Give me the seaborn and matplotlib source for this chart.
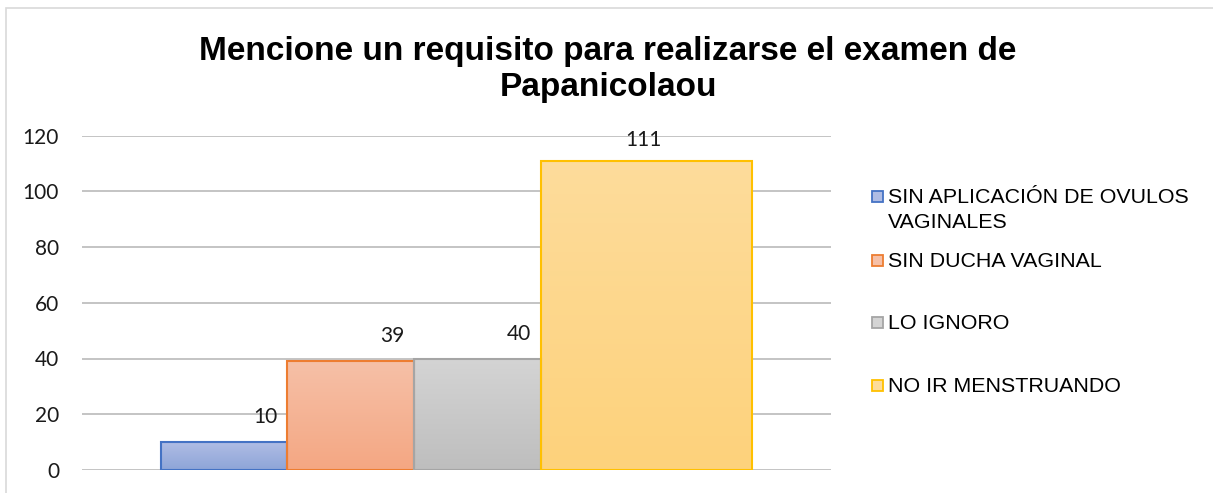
import textwrap
import numpy as np
import matplotlib.pyplot as plt
from matplotlib.patches import Rectangle
from matplotlib.colors import to_rgb
import seaborn as sns

# ── Data ──────────────────────────────────────────────────────────────────────
title = "Mencione un requisito para realizarse el examen de\nPapanicolaou"
categories = ["SIN APLICACIÓN DE OVULOS VAGINALES", "SIN DUCHA VAGINAL",
              "LO IGNORO", "NO IR MENSTRUANDO"]
values = [10, 39, 40, 111]
y_ticks = [0, 20, 40, 60, 80, 100, 120]

# ── Style ─────────────────────────────────────────────────────────────────────
edge_colors = ["#4472C4", "#ED7D31", "#A5A5A5", "#FFC000"]
grad_top = ["#AFBCE4", "#F6C0A7", "#D4D4D4", "#FDDC9B"]
grad_bottom = ["#8EA5D8", "#F4A783", "#BEBEBE", "#FDD27C"]
bar_widths = [1.0, 1.0, 1.0, 1.67]
label_dx = [30, 30, 30, -2]      # points
label_dy = [18, 18, 18, 15]      # points
legend_y = [203, 267, 329, 392]  # baseline pixel rows
legend_gap = 25                  # px between wrapped lines

sns.set_theme(style="white")
num_font = "Lato"
txt_font = "Liberation Sans"

W, H = 1213, 493
fig = plt.figure(figsize=(W / 100, H / 100), dpi=100)
ax = fig.add_axes([82 / W, 1 - 470 / H, (831 - 82) / W, (470 - 135.5) / H])

sns.barplot(x=categories, y=values, hue=categories, palette=edge_colors,
            width=1, legend=False, ax=ax, saturation=1)

bars = sorted(ax.patches, key=lambda p: p.get_x())
left = bars[0].get_x()
for i, p in enumerate(bars):
    p.set_x(left)
    p.set_width(bar_widths[i])
    left += bar_widths[i]
    # vertical gradient clipped to the bar
    x0, y0, w, h = p.get_x(), 0, p.get_width(), p.get_height()
    c1, c2 = np.array(to_rgb(grad_top[i])), np.array(to_rgb(grad_bottom[i]))
    t = np.linspace(0, 1, 64)[:, None]
    img = (c1 * (1 - t) + c2 * t)[:, None, :]
    im = ax.imshow(img, extent=[x0, x0 + w, y0, y0 + h], origin="upper",
                   aspect="auto", zorder=2)
    im.set_clip_path(p)
    p.set_facecolor("none")
    p.set_edgecolor(edge_colors[i])
    p.set_linewidth(1.5)
    p.set_zorder(3)
    ax.annotate(f"{values[i]}", (x0 + w / 2, h), xytext=(label_dx[i], label_dy[i]),
                textcoords="offset points", ha="center", va="center",
                fontsize=15, family=num_font, color="#1a1a1a", zorder=4)

# margins of 0.621 bar widths on both sides
ax.set_xlim(-0.5 - 0.621, -0.5 + sum(bar_widths) + 0.621)
ax.set_ylim(0, 120)
ax.set_yticks(y_ticks)
ax.set_yticklabels([str(v) for v in y_ticks], family=num_font, fontsize=15, color="#1a1a1a")
ax.tick_params(axis="y", length=0, pad=16.5)
ax.set_xticks([])
ax.set_xlabel("")
ax.set_ylabel("")
for s in ax.spines.values():
    s.set_visible(False)
ax.grid(axis="y", color="#BFBFBF", linewidth=1.3, zorder=0)
ax.set_axisbelow(True)

# title (baseline of the last line)
fig.text(608 / W, 1 - 96 / H, title, ha="center", va="baseline", family=txt_font,
         fontsize=24, fontweight="bold", color="black", linespacing=1.2)

# legend drawn by hand
for i, cat in enumerate(categories):
    yb = legend_y[i]
    fig.add_artist(Rectangle((872 / W, 1 - (yb - 1.5) / H), 11 / W, 11 / H,
                             transform=fig.transFigure, facecolor=grad_top[i],
                             edgecolor=edge_colors[i], linewidth=1.3))
    for k, line in enumerate(textwrap.wrap(cat, 24)):
        fig.text(888 / W, 1 - (yb + k * legend_gap) / H, line, ha="left", va="baseline",
                 family=txt_font, fontsize=15.4, color="black")

# outer chart border
fig.add_artist(Rectangle((6 / W, -0.1), 1.2, 1.1 - 8 / H, transform=fig.transFigure,
                         facecolor="none", edgecolor="#D9D9D9", linewidth=1.2))

fig.savefig("out.png", dpi=100)
